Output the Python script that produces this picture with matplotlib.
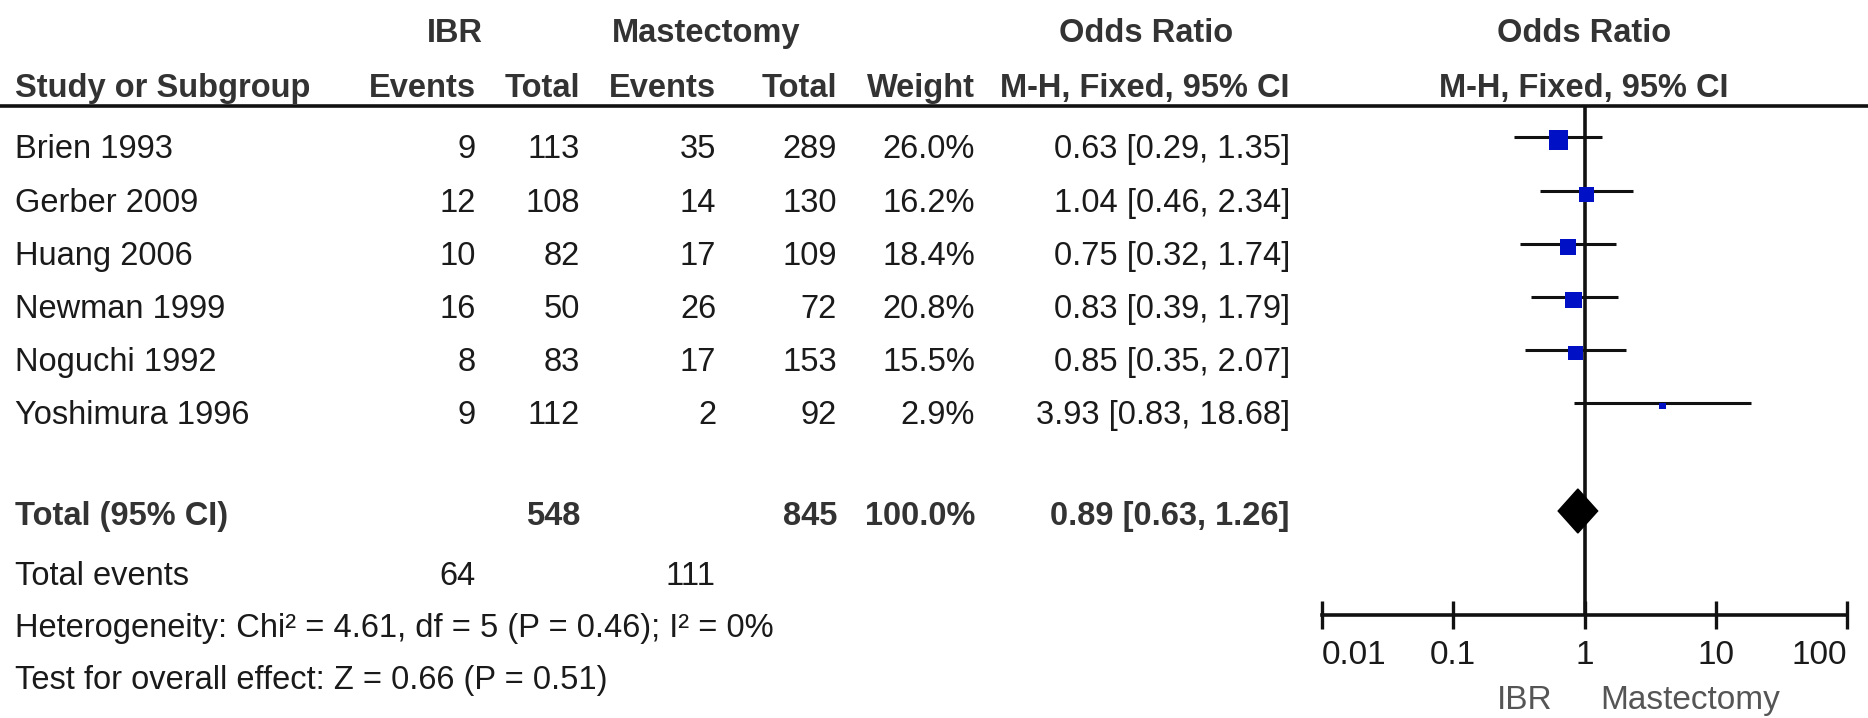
import numpy as np
import matplotlib
matplotlib.use("Agg")
from matplotlib import pyplot as plt

plt.rcParams["font.family"] = ["Liberation Sans", "DejaVu Sans"]

# study level data
studies = ["Brien 1993", "Gerber 2009", "Huang 2006", "Newman 1999",
           "Noguchi 1992", "Yoshimura 1996"]
ibr_events = [9, 12, 10, 16, 8, 9]
ibr_total = [113, 108, 82, 50, 83, 112]
mast_events = [35, 14, 17, 26, 17, 2]
mast_total = [289, 130, 109, 72, 153, 92]
weights = [26.0, 16.2, 18.4, 20.8, 15.5, 2.9]
odds = [0.63, 1.04, 0.75, 0.83, 0.85, 3.93]
ci_low = [0.29, 0.46, 0.32, 0.39, 0.35, 0.83]
ci_high = [1.35, 2.34, 1.74, 1.79, 2.07, 18.68]

# pooled result
total_ibr = 548
total_mast = 845
total_weight = 100.0
pooled_or = 0.89
pooled_low = 0.63
pooled_high = 1.26
events_ibr_sum = 64
events_mast_sum = 111
heterogeneity = "Heterogeneity: Chi² = 4.61, df = 5 (P = 0.46); I² = 0%"
overall = "Test for overall effect: Z = 0.66 (P = 0.51)"

axis_ticks = [0.01, 0.1, 1, 10, 100]
axis_labels = ["0.01", "0.1", "1", "10", "100"]

W, H = 1868, 718
fig = plt.figure(figsize=(W / 100, H / 100), dpi=100)

# full-figure axes in pixel units for the table part
ax = fig.add_axes([0, 0, 1, 1])
ax.set_xlim(0, W)
ax.set_ylim(H, 0)
ax.axis("off")

FS = 23.5
HEAD = "#333333"
BODY = "#1a1a1a"

# row baselines
row_base = [158, 212, 265, 318, 371, 424]
total_base = 525
events_base = 585
het_base = 637
test_base = 689

# column right edges
col_ibr_ev, col_ibr_tot = 476, 580
col_m_ev, col_m_tot = 716, 837
col_w, col_or = 975, 1290
plot_mid = 1584


def txt(x, y, s, ha="right", bold=False, color=BODY, size=FS):
    ax.text(x, y, s, ha=ha, va="baseline", fontsize=size, color=color,
            fontweight="bold" if bold else "normal")


# header
h1, h2 = 42, 97
txt(455, h1, "IBR", ha="center", bold=True, color=HEAD)
txt(706, h1, "Mastectomy", ha="center", bold=True, color=HEAD)
txt(1146, h1, "Odds Ratio", ha="center", bold=True, color=HEAD)
txt(plot_mid, h1, "Odds Ratio", ha="center", bold=True, color=HEAD)
txt(15, h2, "Study or Subgroup", ha="left", bold=True, color=HEAD)
txt(col_ibr_ev, h2, "Events", bold=True, color=HEAD)
txt(col_ibr_tot, h2, "Total", bold=True, color=HEAD)
txt(col_m_ev, h2, "Events", bold=True, color=HEAD)
txt(col_m_tot, h2, "Total", bold=True, color=HEAD)
txt(col_w, h2, "Weight", bold=True, color=HEAD)
txt(col_or, h2, "M-H, Fixed, 95% CI", bold=True, color=HEAD)
txt(plot_mid, h2, "M-H, Fixed, 95% CI", ha="center", bold=True, color=HEAD)
ax.plot([0, W], [106, 106], color="#111111", lw=2.6, solid_capstyle="butt")

# study rows
for i, name in enumerate(studies):
    y = row_base[i]
    txt(15, y, name, ha="left")
    txt(col_ibr_ev, y, str(ibr_events[i]))
    txt(col_ibr_tot, y, str(ibr_total[i]))
    txt(col_m_ev, y, str(mast_events[i]))
    txt(col_m_tot, y, str(mast_total[i]))
    txt(col_w, y, f"{weights[i]:.1f}%")
    txt(col_or, y, f"{odds[i]:.2f} [{ci_low[i]:.2f}, {ci_high[i]:.2f}]")

# totals
txt(15, total_base, "Total (95% CI)", ha="left", bold=True, color=HEAD)
txt(col_ibr_tot, total_base, str(total_ibr), bold=True, color=HEAD)
txt(col_m_tot, total_base, str(total_mast), bold=True, color=HEAD)
txt(col_w, total_base, f"{total_weight:.1f}%", bold=True, color=HEAD)
txt(col_or, total_base, f"{pooled_or:.2f} [{pooled_low:.2f}, {pooled_high:.2f}]",
    bold=True, color=HEAD)
txt(15, events_base, "Total events", ha="left")
txt(col_ibr_ev, events_base, str(events_ibr_sum))
txt(col_m_ev, events_base, str(events_mast_sum))
txt(15, het_base, heterogeneity, ha="left")
txt(15, test_base, overall, ha="left")

# forest plot axes: log x, y in the same pixel units as the table
x0, x1 = 1322, 1847
y_top, y_axis = 106, 615
fa = fig.add_axes([x0 / W, 1 - y_axis / H, (x1 - x0) / W, (y_axis - y_top) / H])
fa.set_xscale("log")
fa.set_xlim(axis_ticks[0], axis_ticks[-1])
fa.set_ylim(y_axis, y_top)
fa.patch.set_visible(False)
for side in ["top", "left", "right"]:
    fa.spines[side].set_visible(False)
fa.spines["bottom"].set_linewidth(2.6)
fa.spines["bottom"].set_color("#111111")
fa.set_yticks([])
fa.set_xticks(axis_ticks)
fa.set_xticklabels(axis_labels)
fa.xaxis.set_minor_locator(matplotlib.ticker.NullLocator())
fa.tick_params(axis="x", direction="inout", length=20, width=2.4,
               color="#111111", labelsize=24, labelcolor=BODY, pad=8)
labels = fa.get_xticklabels()
labels[0].set_horizontalalignment("left")
labels[-1].set_horizontalalignment("right")

fa.axvline(1, color="#111111", lw=2.6, zorder=1)

line_y = [b - 21 for b in row_base]
fa.hlines(line_y, ci_low, ci_high, color="#111111", lw=2.2, zorder=2)
fa.scatter(odds, [y + 3 for y in line_y], s=[7.2 * w for w in weights],
           marker="s", color="#0010c4", linewidths=0, zorder=3, clip_on=False)

# pooled diamond
yc, half_h = total_base - 14, 22
fa.fill([pooled_low, pooled_or, pooled_high, pooled_or],
        [yc, yc - half_h, yc, yc + half_h], color="black", zorder=4)

# direction labels under the axis, offset from the line of no effect
fa.annotate("IBR", xy=(1, 709), xytext=(-23, 0), textcoords="offset points",
            ha="right", va="baseline", fontsize=24, color="#555555",
            annotation_clip=False)
fa.annotate("Mastectomy", xy=(1, 709), xytext=(11.5, 0), textcoords="offset points",
            ha="left", va="baseline", fontsize=24, color="#555555",
            annotation_clip=False)

fig.savefig("out.png", dpi=100)
